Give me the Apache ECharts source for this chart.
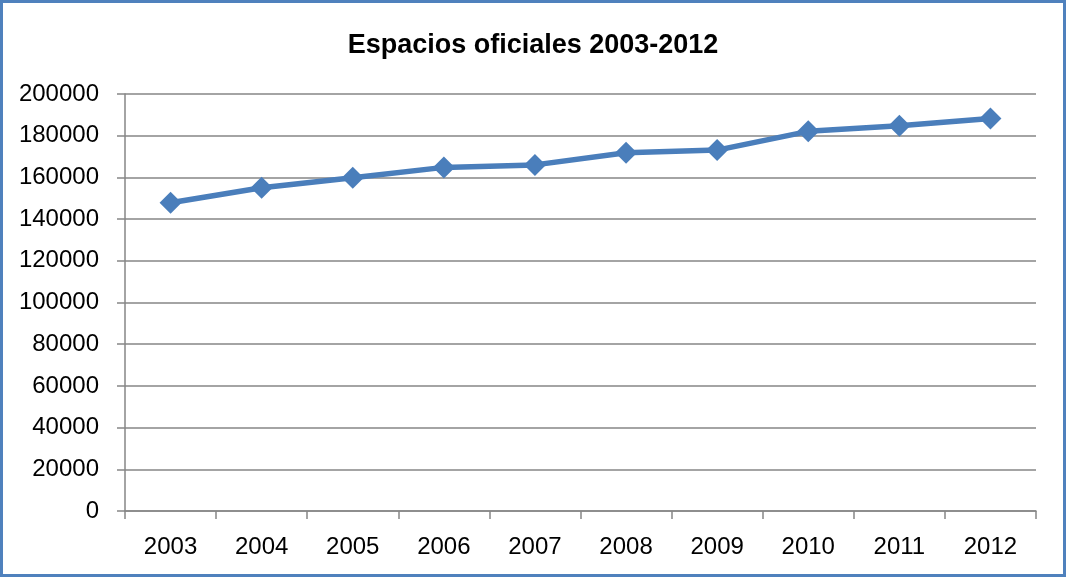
<!DOCTYPE html>
<html>
<head>
<meta charset="utf-8">
<script src="https://cdn.jsdelivr.net/npm/echarts@6/dist/echarts.min.js"></script>
<style>
html,body{margin:0;padding:0;background:#fff;}
#chart{width:1066px;height:577px;}
</style>
</head>
<body>
<div id="chart"></div>
<script>
const title = "Espacios oficiales 2003-2012";
const years = ["2003","2004","2005","2006","2007","2008","2009","2010","2011","2012"];
const espacios = [147800, 155000, 159800, 164800, 166000, 171800, 173100, 182100, 184800, 188300];

const chart = echarts.init(document.getElementById('chart'));
const font = "'Liberation Sans', Arial, sans-serif";
chart.setOption({
  backgroundColor: '#ffffff',
  animation: false,
  title: {
    text: title,
    left: 'center',
    top: 27,
    textStyle: {fontFamily: font, fontSize: 27, fontWeight: 'bold', color: '#000'}
  },
  graphic: [{
    type: 'rect',
    shape: {x: 1.5, y: 1.5, width: 1063, height: 574},
    style: {fill: 'none', stroke: '#4f81bd', lineWidth: 3},
    silent: true
  }],
  grid: {left: 125, right: 30, top: 94, bottom: 66},
  xAxis: {
    type: 'category',
    data: years,
    boundaryGap: true,
    axisLine: {show: true, lineStyle: {color: '#868686', width: 1.5}},
    axisTick: {show: true, length: 8, lineStyle: {color: '#868686', width: 1.5}},
    axisLabel: {fontFamily: font, fontSize: 24, color: '#000', margin: 24}
  },
  yAxis: {
    type: 'value',
    min: 0,
    max: 200000,
    interval: 20000,
    axisLine: {show: true, lineStyle: {color: '#868686', width: 1.5}},
    axisTick: {show: true, length: 8, lineStyle: {color: '#868686', width: 1.5}},
    axisLabel: {fontFamily: font, fontSize: 24, color: '#000', margin: 26,
      formatter: function (v) { return String(v); }},
    splitLine: {show: true, lineStyle: {color: '#868686', width: 1.5}}
  },
  series: [{
    type: 'line',
    data: espacios,
    symbol: 'diamond',
    symbolSize: 22,
    lineStyle: {color: '#4a7ebb', width: 5.5},
    itemStyle: {color: '#4a7ebb'}
  }]
});
</script>
</body>
</html>
